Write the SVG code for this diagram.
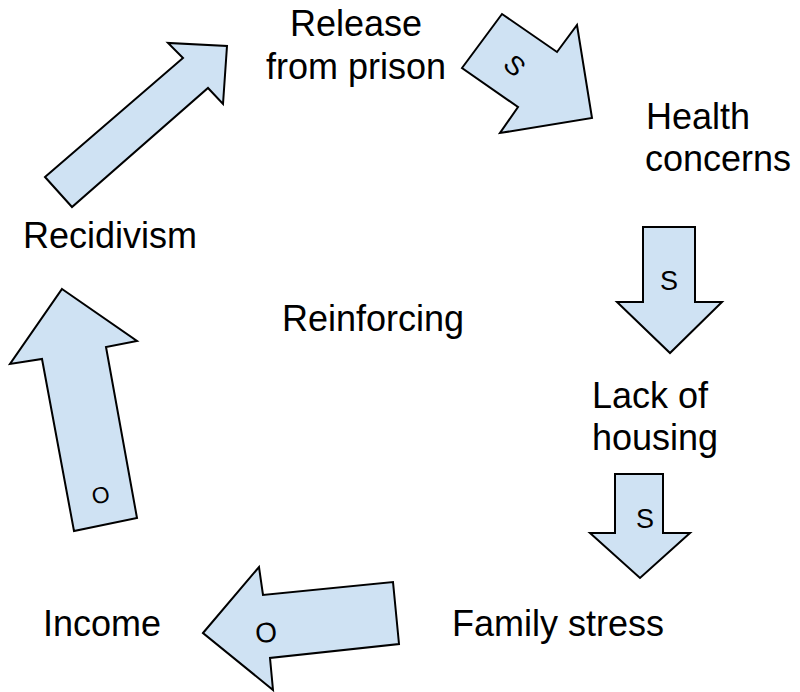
<svg xmlns="http://www.w3.org/2000/svg" width="800" height="692" viewBox="0 0 800 692">
<style>
.arr{fill:#cfe2f3;stroke:#000;stroke-width:2;stroke-linejoin:miter}
.lbl{font-family:"Liberation Sans",Arial,sans-serif;font-size:36px;fill:#000}
.al{font-family:"Liberation Sans",Arial,sans-serif;font-size:27px;fill:#000;text-anchor:middle}
</style>
<rect width="800" height="692" fill="#fff"/>
<g id="connectors">
<g id="arrow-release-health">
<polygon class="arr" points="462,68 502,14 557,52 577,25 592,118 500,133 518,107"/>
<text class="al" transform="translate(508,72) rotate(45)">S</text>
</g>
<g id="arrow-health-housing">
<polygon class="arr" points="643,227 695,227 695,302 722,302 670,353 617,302 643,302"/>
<text class="al" x="669" y="290">S</text>
</g>
<g id="arrow-housing-family">
<polygon class="arr" points="615,474 663,474 663,533 690,533 640,578 590,533 615,533"/>
<text class="al" x="645" y="528">S</text>
</g>
<g id="arrow-family-income">
<polygon class="arr" points="203,633 259,567 263,595 393,582 399,644 270,658 273,690"/>
<text class="al" transform="translate(267,642) rotate(-6)" style="font-size:28px">O</text>
</g>
<g id="arrow-income-recidivism">
<polygon class="arr" points="62,289 137,341 106,347 137,518 74,531 42,359 10,364"/>
<text class="al" transform="translate(102,503) rotate(-10)" style="font-size:23px">O</text>
</g>
<g id="arrow-recidivism-release">
<polygon class="arr" points="45,177 183,58 168,43 227,46 223,104 208,88 72,207"/>
</g>
</g>
<g id="node-release"><text class="lbl" text-anchor="middle" x="356" y="36">Release</text><text class="lbl" text-anchor="middle" x="356" y="79">from prison</text></g>
<g id="node-health"><text class="lbl" x="646" y="129">Health</text><text class="lbl" x="645" y="171">concerns</text></g>
<g id="node-housing"><text class="lbl" x="592" y="408">Lack of</text><text class="lbl" x="592" y="450">housing</text></g>
<g id="node-family"><text class="lbl" x="452" y="636">Family stress</text></g>
<g id="node-income"><text class="lbl" x="43" y="636">Income</text></g>
<g id="node-recidivism"><text class="lbl" x="23" y="248">Recidivism</text></g>
<g id="node-reinforcing"><text class="lbl" x="282" y="331">Reinforcing</text></g>
</svg>
